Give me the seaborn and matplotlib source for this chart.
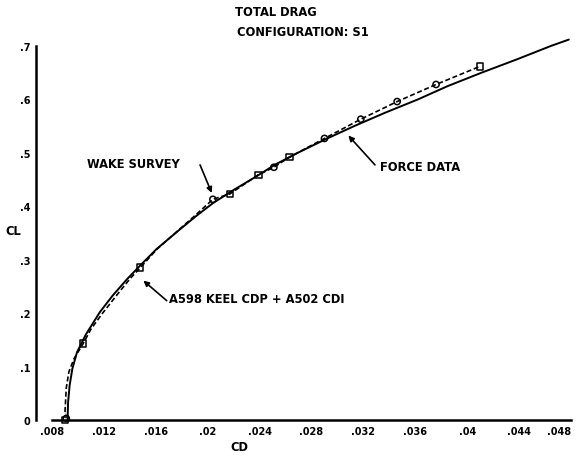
import matplotlib
matplotlib.use("Agg")
import matplotlib.pyplot as plt
import seaborn as sns
import pandas as pd

# Force-balance drag polar (faired curve)
force_cd = [0.00920, 0.00924, 0.00936, 0.00957, 0.00993, 0.01061, 0.01169,
            0.01268, 0.01380, 0.01483, 0.01606, 0.01782, 0.01907, 0.02041,
            0.02196, 0.02369, 0.02520, 0.02702, 0.02904, 0.03128, 0.03366,
            0.03620, 0.03850, 0.04110, 0.04383, 0.04644, 0.04783]
force_cl = [0.000, 0.033, 0.065, 0.096, 0.127, 0.160, 0.202,
            0.233, 0.264, 0.290, 0.320, 0.356, 0.381, 0.406,
            0.430, 0.455, 0.478, 0.501, 0.525, 0.550, 0.575,
            0.600, 0.625, 0.650, 0.675, 0.700, 0.712]

# Wake survey build-up (A598 keel CDP + A502 CDI), faired dashed curve
wake_cd = [0.0090, 0.0090, 0.0091, 0.0093, 0.0097, 0.0104, 0.0110, 0.0119,
           0.0131, 0.0140, 0.0148, 0.0161, 0.0175, 0.0189, 0.0204, 0.0217,
           0.0239, 0.0251, 0.0263, 0.0290, 0.0318, 0.0346, 0.0376, 0.0410]
wake_cl = [0.000, 0.030, 0.060, 0.090, 0.115, 0.143, 0.170, 0.200,
           0.237, 0.264, 0.285, 0.320, 0.350, 0.380, 0.413, 0.423,
           0.459, 0.473, 0.492, 0.527, 0.563, 0.596, 0.628, 0.662]

# Measured wake survey points
sq_cd = [0.0090, 0.0104, 0.0148, 0.0217, 0.0239, 0.0263, 0.0410]
sq_cl = [0.000, 0.143, 0.285, 0.423, 0.459, 0.492, 0.662]
oc_cd = [0.0091, 0.0204, 0.0251, 0.0290, 0.0318, 0.0346, 0.0376]
oc_cl = [0.003, 0.413, 0.473, 0.527, 0.563, 0.596, 0.628]

x_ticks = [0.008, 0.012, 0.016, 0.020, 0.024, 0.028, 0.032, 0.036, 0.040, 0.044, 0.048]
x_labels = [".008", ".012", ".016", ".02", ".024", ".028", ".032", ".036", ".04", ".044", ".048"]
y_ticks = [0.0, 0.1, 0.2, 0.3, 0.4, 0.5, 0.6, 0.7]
y_labels = ["0", ".1", ".2", ".3", ".4", ".5", ".6", ".7"]

sns.set_style("white")
plt.rcParams["font.family"] = ["DejaVu Sans"]
plt.rcParams["font.weight"] = "bold"

W, H = 581, 456
fig = plt.figure(figsize=(W / 100, H / 100), dpi=100)
ax = fig.add_axes([52 / W, (H - 421) / H, 519 / W, 374 / H])
ax.set_facecolor("white")

force_df = pd.DataFrame({"CD": force_cd, "CL": force_cl})
wake_df = pd.DataFrame({"CD": wake_cd, "CL": wake_cl})
sns.lineplot(data=force_df, x="CD", y="CL", sort=False, color="black",
             lw=1.4, ax=ax, clip_on=False)
sns.lineplot(data=wake_df, x="CD", y="CL", sort=False, color="black",
             lw=1.2, ax=ax, clip_on=False)
ax.lines[-1].set_dashes([3, 1.6])

sns.scatterplot(x=sq_cd, y=sq_cl, marker="s", s=22, facecolor="none",
                edgecolor="black", linewidth=1.1, ax=ax, zorder=5, clip_on=False)
sns.scatterplot(x=oc_cd, y=oc_cl, marker="o", s=20, facecolor="none",
                edgecolor="black", linewidth=1.1, ax=ax, zorder=5, clip_on=False)

ax.set_xlim(0.008, 0.048)
ax.set_ylim(0.0, 0.7)
ax.set_xticks(x_ticks)
ax.set_xticklabels(x_labels)
ax.set_yticks(y_ticks)
ax.set_yticklabels(y_labels)
ax.set_xlabel("")
ax.set_ylabel("")

for side in ("top", "right"):
    ax.spines[side].set_visible(False)
ax.spines["left"].set_position(("outward", 11.5))
for side in ("left", "bottom"):
    ax.spines[side].set_linewidth(1.8)
    ax.spines[side].set_color("black")

ax.tick_params(axis="both", direction="inout", length=5, width=1.2,
               colors="black", labelsize=7, pad=1.5)
# last x label sits at the figure edge; pull it in slightly
ax.get_xticklabels()[-1].set_horizontalalignment("right")

arrow = dict(arrowstyle="-|>", color="black", lw=1.2, mutation_scale=8,
             shrinkA=0, shrinkB=0)
txt = dict(fontsize=8.3, fontweight="bold", color="black")

ax.annotate("", xy=(0.02031, 0.425), xytext=(0.01941, 0.4775), arrowprops=arrow)
ax.text(0.01787, 0.481, "WAKE SURVEY", ha="right", va="center", **txt)

ax.annotate("", xy=(0.03084, 0.5324), xytext=(0.03289, 0.4775), arrowprops=arrow)
ax.text(0.03328, 0.4743, "FORCE DATA", ha="left", va="center", **txt)

ax.annotate("", xy=(0.01504, 0.2609), xytext=(0.01684, 0.2234), arrowprops=arrow)
ax.text(0.01700, 0.2266, "A598 KEEL CDP + A502 CDI", ha="left", va="center", **txt)

fig.text(235 / W, 1 - 13 / H, "TOTAL DRAG", ha="left", va="center", **txt)
fig.text(237 / W, 1 - 33 / H, "CONFIGURATION: S1", ha="left", va="center", **txt)
fig.text(13 / W, 1 - 232 / H, "CL", ha="center", va="center", **txt)
fig.text(239 / W, 1 - 448 / H, "CD", ha="center", va="center", **txt)

fig.savefig("out.png", dpi=100, facecolor="white")
